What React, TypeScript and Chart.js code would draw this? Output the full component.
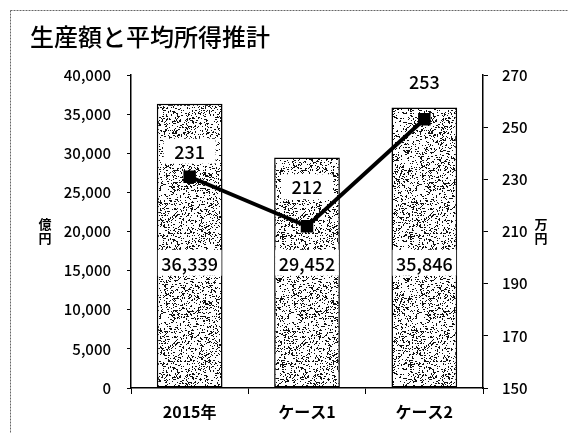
import React, { useEffect, useRef } from 'react';
import { Chart, registerables } from 'chart.js';

Chart.register(...registerables);

// ---- data ----
const TITLE = '生産額と平均所得推計';
const categories = ['2015年', 'ケース1', 'ケース2'];
const productionValues = [36339, 29452, 35846]; // 億円 (left axis)
const incomeValues = [231, 212, 253]; // 万円 (right axis)
const leftUnit = ['億', '円'];
const rightUnit = ['万', '円'];
const leftAxisRange = [0, 40000, 5000];
const rightAxisRange = [150, 270, 20];

// ---- style ----
const FONT = '"Noto Sans CJK JP", "Noto Sans", sans-serif';
const BAR_LABEL_AT = 16000; // value on left scale where bar labels sit
const LINE_LABEL_OFFSETS = [26, 40, 38];

function hash(x: number, y: number): number {
  let h = Math.imul(x + 1, 0x27d4eb2d) ^ Math.imul(y + 7, 0x165667b1);
  h = Math.imul(h ^ (h >>> 15), 0x85ebca6b);
  h = Math.imul(h ^ (h >>> 13), 0xc2b2ae35);
  h ^= h >>> 16;
  return (h >>> 0) / 4294967296;
}

function makePattern(ctx: CanvasRenderingContext2D): CanvasPattern | string {
  const c = document.createElement('canvas');
  const S = 128;
  c.width = S;
  c.height = S;
  const p = c.getContext('2d');
  if (!p) return '#ccc';
  p.fillStyle = '#ffffff';
  p.fillRect(0, 0, S, S);
  p.fillStyle = '#111111';
  for (let y = 0; y < S; y++) {
    for (let x = 0; x < S; x++) {
      const r = hash(x, y);
      if (r < 0.13) p.fillRect(x, y, 1, 1);
      else if (r < 0.16) p.fillRect(x, y, 2, 1);
      else if (r < 0.175) p.fillRect(x, y, 1, 2);
    }
  }
  return ctx.createPattern(c, 'repeat') || '#ccc';
}

const decorPlugin = {
  id: 'decor',
  beforeDraw(chart: any) {
    const ctx = chart.ctx as CanvasRenderingContext2D;
    ctx.save();
    ctx.fillStyle = '#ffffff';
    ctx.fillRect(0, 0, chart.width, chart.height);
    ctx.strokeStyle = '#666';
    ctx.lineWidth = 1;
    ctx.setLineDash([2, 1]);
    ctx.strokeRect(10.5, 10.5, chart.width + 40, chart.height + 40);
    ctx.restore();
  },
  afterDatasetsDraw(chart: any) {
    const ctx = chart.ctx as CanvasRenderingContext2D;
    const yL = chart.scales.y;
    ctx.save();
    ctx.setLineDash([]);
    ctx.textAlign = 'center';
    ctx.textBaseline = 'middle';
    // bar labels
    const barMeta = chart.getDatasetMeta(1);
    const by = yL.getPixelForValue(BAR_LABEL_AT);
    barMeta.data.forEach((bar: any, i: number) => {
      const w = bar.width;
      ctx.fillStyle = '#ffffff';
      ctx.fillRect(bar.x - w / 2 + 1, by - 13, w - 2, 26);
      ctx.fillStyle = '#000';
      ctx.font = `500 18px ${FONT}`;
      ctx.fillText(productionValues[i].toLocaleString('en-US'), bar.x, by + 1);
    });
    // line labels
    const lineMeta = chart.getDatasetMeta(0);
    lineMeta.data.forEach((pt: any, i: number) => {
      const ly = pt.y - LINE_LABEL_OFFSETS[i];
      ctx.fillStyle = '#ffffff';
      ctx.fillRect(pt.x - 26, ly - 12, 52, 25);
      ctx.fillStyle = '#000';
      ctx.font = `500 18px ${FONT}`;
      ctx.fillText(String(incomeValues[i]), pt.x, ly + 1);
    });
    ctx.restore();
  },
  afterDraw(chart: any) {
    const ctx = chart.ctx as CanvasRenderingContext2D;
    const a = chart.chartArea;
    ctx.save();
    ctx.fillStyle = '#000';
    ctx.textBaseline = 'middle';
    ctx.textAlign = 'left';
    ctx.font = `500 24px ${FONT}`;
    ctx.fillText(TITLE, 30, 37);
    const midY = (a.top + a.bottom) / 2;
    ctx.textAlign = 'center';
    ctx.font = `bold 13px ${FONT}`;
    leftUnit.forEach((ch, i) => ctx.fillText(ch, 45, midY - 7 + i * 14));
    rightUnit.forEach((ch, i) => ctx.fillText(ch, 541, midY - 7 + i * 14));
    ctx.restore();
  },
};

export default function App() {
  const ref = useRef<HTMLCanvasElement>(null);
  useEffect(() => {
    const canvas = ref.current;
    if (!canvas) return;
    const ctx = canvas.getContext('2d');
    if (!ctx) return;
    const pattern = makePattern(ctx);
    const chart = new Chart(canvas, {
      type: 'bar',
      data: {
        labels: categories,
        datasets: [
          {
            type: 'line',
            label: '平均所得',
            data: incomeValues,
            yAxisID: 'y2',
            borderColor: '#000',
            backgroundColor: '#000',
            borderWidth: 4,
            pointStyle: 'rect',
            pointRadius: 6,
            pointHoverRadius: 6,
            order: 0,
          } as any,
          {
            type: 'bar',
            label: '生産額',
            data: productionValues,
            yAxisID: 'y',
            backgroundColor: pattern as any,
            borderColor: '#000',
            borderWidth: 1.5,
            borderSkipped: false,
            barPercentage: 0.56,
            categoryPercentage: 1,
            order: 1,
          },
        ],
      },
      options: {
        responsive: false,
        animation: false,
        devicePixelRatio: 1,
        layout: { padding: { top: 75, left: 0, right: 0, bottom: 0 } },
        plugins: {
          legend: { display: false },
          tooltip: { enabled: false },
          title: { display: false },
        },
        scales: {
          x: {
            afterFit: (s: any) => { s.height = 45; },
            grid: { drawOnChartArea: false, drawTicks: true, tickLength: 6, color: '#000', offset: true },
            border: { display: true, color: '#000', width: 1.5 },
            ticks: { color: '#000', padding: 8, font: { family: FONT, size: 16, weight: 'bold' } },
          },
          y: {
            position: 'left',
            min: leftAxisRange[0],
            max: leftAxisRange[1],
            afterFit: (s: any) => { s.width = 131; },
            grid: { drawOnChartArea: false, drawTicks: true, tickLength: 4, color: '#000' },
            border: { display: true, color: '#000', width: 1.5 },
            ticks: {
              stepSize: leftAxisRange[2],
              color: '#000',
              padding: 16,
              font: { family: FONT, size: 15, weight: 500 },
              callback: (v: any) => Number(v).toLocaleString('en-US'),
            },
          },
          y2: {
            position: 'right',
            min: rightAxisRange[0],
            max: rightAxisRange[1],
            afterFit: (s: any) => { s.width = 85; },
            grid: { drawOnChartArea: false, drawTicks: true, tickLength: 5, color: '#000' },
            border: { display: true, color: '#000', width: 1.5 },
            ticks: {
              stepSize: rightAxisRange[2],
              color: '#000',
              padding: 14,
              font: { family: FONT, size: 15, weight: 500 },
            },
          },
        },
      },
      plugins: [decorPlugin],
    });
    return () => chart.destroy();
  }, []);
  return (
    <div style={{ position: 'absolute', left: 0, top: 0, width: 568, height: 433 }}>
      <canvas ref={ref} width={568} height={433} style={{ width: 568, height: 433, display: 'block' }} />
    </div>
  );
}
